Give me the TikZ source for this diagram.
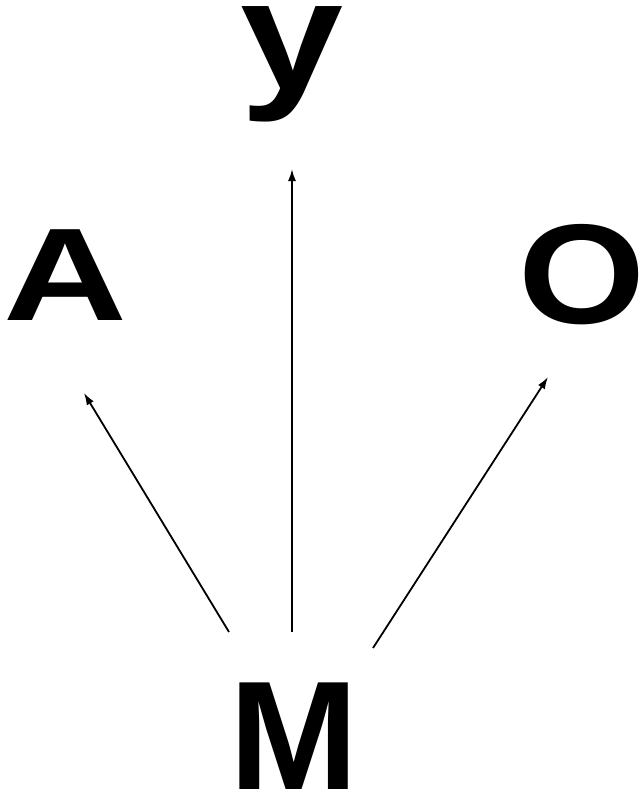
\documentclass[tikz,border=0pt]{standalone}
\usepackage{fontspec}
\setmainfont{Liberation Sans}
\usetikzlibrary{arrows.meta}
\tikzset{
  letter/.style={inner sep=0pt, anchor=base, font=\bfseries},
  arr/.style={line width=1.8pt, -{Latex[length=12pt,width=8pt]}}
}
\begin{document}
\begin{tikzpicture}[x=1pt,y=-1pt]
\useasboundingbox (0,0) rectangle (642,798);
\node[letter, xscale=1.18] (y) at (292.5,89) {\fontsize{157}{160}\selectfont y};
\node[letter, xscale=1.3] (A) at (65,320) {\fontsize{132}{135}\selectfont A};
\node[letter, xscale=1.15] (O) at (582,323) {\fontsize{142}{145}\selectfont O};
\node[letter] (M) at (294.5,789) {\fontsize{155}{160}\selectfont M};
\coordinate (mA) at (229,632);
\coordinate (mY) at (292,632);
\coordinate (mO) at (373,648);
\coordinate (tA) at (84,393);
\coordinate (tY) at (292,169);
\coordinate (tO) at (548,377);
\draw[arr] (mA) -- (tA);
\draw[arr] (mY) -- (tY);
\draw[arr] (mO) -- (tO);
\end{tikzpicture}
\end{document}
